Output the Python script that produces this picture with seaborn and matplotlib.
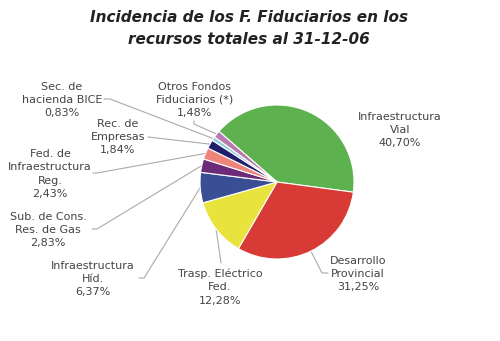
import numpy as np
import matplotlib
matplotlib.use("Agg")
import matplotlib.pyplot as plt
import seaborn as sns

# Share of each trust fund in total resources (%), in drawing order (clockwise)
fondos = [
    "Infraestructura\nVial",
    "Desarrollo\nProvincial",
    "Trasp. Eléctrico\nFed.",
    "Infraestructura\nHíd.",
    "Sub. de Cons.\nRes. de Gas",
    "Fed. de\nInfraestructura\nReg.",
    "Rec. de\nEmpresas",
    "Sec. de\nhacienda BICE",
    "Otros Fondos\nFiduciarios (*)",
]
porcentajes = [40.70, 31.25, 12.28, 6.37, 2.83, 2.43, 1.84, 0.83, 1.48]
colores = ["#5DB14F", "#D83B35", "#E8E33D", "#3A4E95", "#6C2B78",
           "#EE857A", "#211F6B", "#93CFDB", "#B87AB0"]

sns.set_theme(style="white")
plt.rcParams["font.family"] = ["DejaVu Sans"]

W, H = 500, 341
fig = plt.figure(figsize=(W / 100, H / 100), dpi=100)
ax = fig.add_axes([0, 0, 1, 1])

cx, cy, r = 277, H - 182, 77
wedges, _ = ax.pie(
    porcentajes, colors=colores, startangle=138.9, counterclock=False,
    center=(cx, cy), radius=r,
    wedgeprops=dict(edgecolor="white", linewidth=0.8),
)
ax.set_xlim(0, W)
ax.set_ylim(0, H)
ax.set_aspect("equal")
ax.axis("off")

# label placement (pixel coords from top-left) and leader-line bend points
label_pos = [(400, 130), (358, 274), (220, 287), (93, 279), (48, 230),
             (50, 174), (118, 137), (62, 100), (195, 100)]
leader_bends = [
    None,
    [(322, 273), (328, 273)],
    [(221, 263)],
    [(144, 278), (139, 278)],
    [(97, 229), (92, 229)],
    [(97, 173), (93, 173)],
    [(148, 137)],
    [(110, 99), (104, 99)],
    [(194, 124), (194, 121)],
]

for w, name, val, (lx, ly), bends in zip(wedges, fondos, porcentajes,
                                         label_pos, leader_bends):
    txt = name + "\n" + f"{val:.2f}".replace(".", ",") + "%"
    ax.text(lx, H - ly, txt, ha="center", va="center", fontsize=8.0,
            color="#444444", linespacing=1.42)
    if bends is None:
        continue
    mid = np.deg2rad((w.theta1 + w.theta2) / 2)
    xs = [cx + r * np.cos(mid)] + [b[0] for b in bends]
    ys = [cy + r * np.sin(mid)] + [H - b[1] for b in bends]
    ax.plot(xs, ys, color="#AAAAAA", linewidth=0.8, zorder=0.5)

ax.text(249, H - 28.5, "Incidencia de los F. Fiduciarios en los\nrecursos totales al 31-12-06",
        ha="center", va="center", fontsize=11.0, fontweight="bold",
        fontstyle="italic", color="#222222", linespacing=1.5)

fig.savefig("out.png", dpi=100, facecolor="white")
